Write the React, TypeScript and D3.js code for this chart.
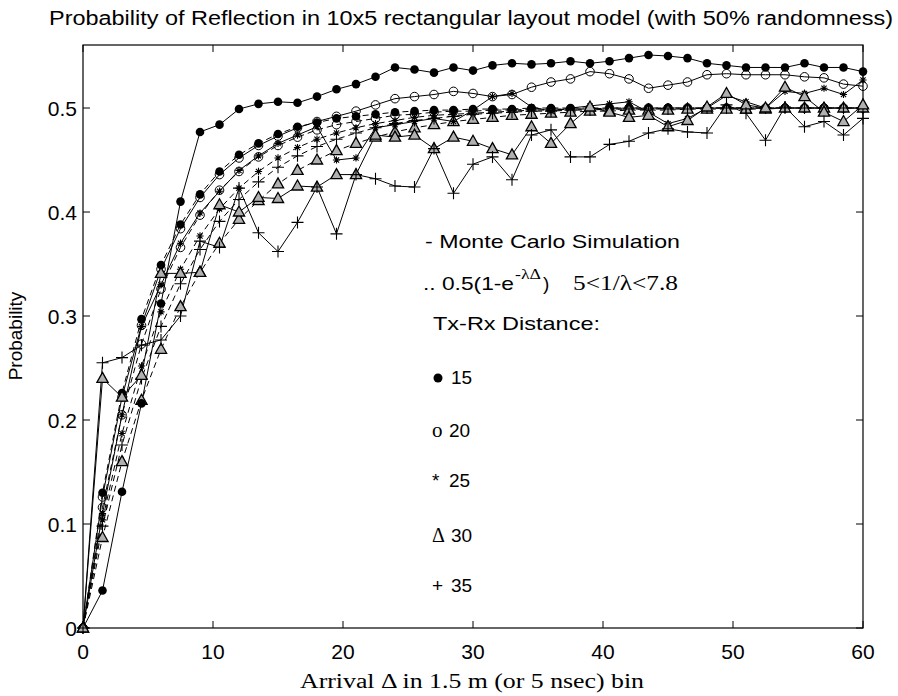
import React from 'react';
import * as d3 from 'd3';

const binX = [0, 1.5, 3, 4.5, 6, 7.5, 9, 10.5, 12, 13.5, 15, 16.5, 18, 19.5, 21, 22.5, 24, 25.5, 27, 28.5, 30, 31.5, 33, 34.5, 36, 37.5, 39, 40.5, 42, 43.5, 45, 46.5, 48, 49.5, 51, 52.5, 54, 55.5, 57, 58.5, 60];

const distances = ['15', '20', '25', '30', '35'];
const markerTypes = ['filled', 'open', 'star', 'triangle', 'plus'];

// Monte Carlo simulation (solid)
const mc15 = [0, 0.036, 0.131, 0.216, 0.312, 0.41, 0.477, 0.484, 0.499, 0.504,
  0.506, 0.505, 0.511, 0.518, 0.523, 0.530, 0.539, 0.537, 0.534, 0.539,
  0.536, 0.541, 0.543, 0.542, 0.543, 0.545, 0.543, 0.545, 0.548, 0.551,
  0.550, 0.548, 0.543, 0.541, 0.539, 0.539, 0.539, 0.543, 0.539, 0.539, 0.535];
const mc20 = [0, 0.126, 0.222, 0.291, 0.345, 0.384, 0.414, 0.436, 0.452, 0.464,
  0.473, 0.481, 0.487, 0.492, 0.497, 0.503, 0.509, 0.511, 0.513, 0.516,
  0.514, 0.511, 0.513, 0.520, 0.525, 0.528, 0.535, 0.533, 0.528, 0.519,
  0.522, 0.525, 0.532, 0.533, 0.532, 0.532, 0.532, 0.530, 0.529, 0.523, 0.521];
const mc25 = [0, 0.11, 0.205, 0.29, 0.33, 0.37, 0.399, 0.42, 0.44, 0.454,
  0.466, 0.474, 0.482, 0.45, 0.452, 0.481, 0.484, 0.487, 0.49, 0.487,
  0.498, 0.511, 0.514, 0.501, 0.497, 0.500, 0.502, 0.504, 0.506, 0.496,
  0.485, 0.490, 0.500, 0.512, 0.506, 0.500, 0.516, 0.514, 0.519, 0.513, 0.527];
const mc30 = [0, 0.24, 0.222, 0.243, 0.341, 0.341, 0.342, 0.407, 0.40, 0.414,
  0.413, 0.425, 0.424, 0.436, 0.436, 0.474, 0.472, 0.474, 0.461, 0.472,
  0.468, 0.461, 0.455, 0.482, 0.466, 0.485, 0.501, 0.496, 0.491, 0.493,
  0.482, 0.488, 0.501, 0.514, 0.503, 0.500, 0.520, 0.511, 0.496, 0.487, 0.503];
const mc35 = [0, 0.255, 0.26, 0.272, 0.277, 0.30, 0.372, 0.366, 0.423, 0.38,
  0.362, 0.39, 0.424, 0.379, 0.436, 0.432, 0.425, 0.424, 0.461, 0.418,
  0.446, 0.453, 0.431, 0.474, 0.479, 0.453, 0.453, 0.465, 0.468, 0.476,
  0.48, 0.477, 0.476, 0.503, 0.495, 0.469, 0.501, 0.482, 0.487, 0.474, 0.49];

// 0.5(1-e^-λΔ) model (dashed)
const fit15 = [0, 0.130, 0.226, 0.297, 0.349, 0.388, 0.417, 0.439, 0.455, 0.466,
  0.475, 0.482, 0.486, 0.490, 0.492, 0.494, 0.496, 0.497, 0.498, 0.498,
  0.499, 0.499, 0.499, 0.5, 0.5, 0.5, 0.5, 0.5, 0.5, 0.5,
  0.5, 0.5, 0.5, 0.5, 0.5, 0.5, 0.5, 0.5, 0.5, 0.5, 0.5];
const fit20 = [0, 0.116, 0.205, 0.273, 0.326, 0.366, 0.397, 0.421, 0.439, 0.453,
  0.464, 0.472, 0.479, 0.484, 0.487, 0.490, 0.493, 0.494, 0.496, 0.497,
  0.497, 0.498, 0.498, 0.499, 0.499, 0.499, 0.499, 0.5, 0.5, 0.5,
  0.5, 0.5, 0.5, 0.5, 0.5, 0.5, 0.5, 0.5, 0.5, 0.5, 0.5];
const fit25 = [0, 0.104, 0.187, 0.252, 0.304, 0.345, 0.377, 0.403, 0.423, 0.439,
  0.452, 0.462, 0.470, 0.476, 0.481, 0.485, 0.488, 0.491, 0.493, 0.494,
  0.495, 0.496, 0.497, 0.498, 0.498, 0.499, 0.499, 0.499, 0.499, 0.499,
  0.5, 0.5, 0.5, 0.5, 0.5, 0.5, 0.5, 0.5, 0.5, 0.5, 0.5];
const fit30 = [0, 0.087, 0.160, 0.219, 0.268, 0.309, 0.342, 0.370, 0.393, 0.411,
  0.427, 0.440, 0.450, 0.459, 0.466, 0.472, 0.477, 0.481, 0.484, 0.487,
  0.489, 0.491, 0.493, 0.494, 0.495, 0.496, 0.497, 0.497, 0.498, 0.498,
  0.498, 0.499, 0.499, 0.499, 0.499, 0.499, 0.5, 0.5, 0.5, 0.5, 0.5];
const fit35 = [0, 0.098, 0.176, 0.240, 0.290, 0.331, 0.364, 0.391, 0.412, 0.429,
  0.443, 0.454, 0.463, 0.470, 0.476, 0.481, 0.485, 0.488, 0.490, 0.492,
  0.494, 0.495, 0.496, 0.497, 0.497, 0.498, 0.498, 0.499, 0.499, 0.499,
  0.499, 0.499, 0.5, 0.5, 0.5, 0.5, 0.5, 0.5, 0.5, 0.5, 0.5];

const mcSeries = [mc15, mc20, mc25, mc30, mc35];
const fitSeries = [fit15, fit20, fit25, fit30, fit35];

const xTicks = [0, 10, 20, 30, 40, 50, 60];
const yTicks = [0, 0.1, 0.2, 0.3, 0.4, 0.5];
const yTickLabels = ['0', '0.1', '0.2', '0.3', '0.4', '0.5'];

const titleText = 'Probability of Reflection in 10x5 rectangular layout model (with 50% randomness)';
const xLabel = 'Arrival \u0394 in 1.5 m (or 5 nsec) bin';
const yLabel = 'Probability';
const fitLabelA = '.. 0.5(1-e';
const fitLabelSup = '-\u03bb\u0394';
const fitLabelRange = '5<1/\u03bb<7.8';

const SANS = '"Liberation Sans", Arial, Helvetica, sans-serif';
const SERIF = '"Liberation Serif", "Times New Roman", serif';

function Marker({ type, cx, cy }: { type: string; cx: number; cy: number }) {
  if (type === 'filled') return <circle cx={cx} cy={cy} r={4.3} fill="#000" />;
  if (type === 'open') return <circle cx={cx} cy={cy} r={4.3} fill="none" stroke="#000" strokeWidth={1} />;
  if (type === 'plus')
    return (
      <path d={`M${cx - 6},${cy}H${cx + 6}M${cx},${cy - 6}V${cy + 6}`} stroke="#000" strokeWidth={1.1} fill="none" />
    );
  if (type === 'star') {
    const s = 3.6, d = 2.6;
    return (
      <path
        d={`M${cx - s},${cy}H${cx + s}M${cx},${cy - s}V${cy + s}M${cx - d},${cy - d}L${cx + d},${cy + d}M${cx - d},${cy + d}L${cx + d},${cy - d}`}
        stroke="#000" strokeWidth={1.1} fill="none" />
    );
  }
  return (
    <path d={`M${cx},${cy - 6}L${cx + 5.6},${cy + 4}L${cx - 5.6},${cy + 4}Z`} fill="#b0b0b0" stroke="#000" strokeWidth={1.3} />
  );
}

export default function App() {
  const W = 898, H = 696;
  const left = 83, right = 863, top = 45, bottom = 628;
  const x = d3.scaleLinear().domain([0, 60]).range([left, right]);
  const y = d3.scaleLinear().domain([0, 0.5606]).range([bottom, top]);
  const line = d3.line<number>().x((_, i) => x(binX[i])).y((v) => y(v));
  const tl = 7;

  return (
    <svg width={W} height={H} style={{ position: 'absolute', left: 0, top: 0, background: '#fff' }}
      xmlns="http://www.w3.org/2000/svg">
      <rect x={0} y={0} width={W} height={H} fill="#fff" />
      <text x={49} y={25} fontFamily={SANS} fontSize={20} textLength={844} lengthAdjust="spacingAndGlyphs">{titleText}</text>

      <rect x={left} y={top} width={right - left} height={bottom - top} fill="none" stroke="#000" strokeWidth={1.2} />
      {xTicks.map((t) => (
        <g key={'xt' + t}>
          <line x1={x(t)} x2={x(t)} y1={bottom} y2={bottom - tl} stroke="#000" />
          <line x1={x(t)} x2={x(t)} y1={top} y2={top + tl} stroke="#000" />
          <text x={x(t)} y={659} textAnchor="middle" fontFamily={SANS} fontSize={21}>{t}</text>
        </g>
      ))}
      {yTicks.map((t, i) => (
        <g key={'yt' + t}>
          <line x1={left} x2={left + tl} y1={y(t)} y2={y(t)} stroke="#000" />
          <line x1={right} x2={right - tl} y1={y(t)} y2={y(t)} stroke="#000" />
          <text x={77} y={y(t) + 7.5} textAnchor="end" fontFamily={SANS} fontSize={21}>{yTickLabels[i]}</text>
        </g>
      ))}

      {fitSeries.map((s, k) => (
        <path key={'f' + k} d={line(s) || ''} fill="none" stroke="#000" strokeWidth={1} strokeDasharray="6,4" />
      ))}
      {mcSeries.map((s, k) => (
        <path key={'m' + k} d={line(s) || ''} fill="none" stroke="#000" strokeWidth={1} />
      ))}
      {fitSeries.map((s, k) => (
        <g key={'fm' + k}>
          {s.map((v, i) => <Marker key={i} type={markerTypes[k]} cx={x(binX[i])} cy={y(v)} />)}
        </g>
      ))}
      {mcSeries.map((s, k) => (
        <g key={'mm' + k}>
          {s.map((v, i) => <Marker key={i} type={markerTypes[k]} cx={x(binX[i])} cy={y(v)} />)}
        </g>
      ))}

      <text x={425} y={248} fontFamily={SANS} fontSize={19} textLength={255} lengthAdjust="spacingAndGlyphs">- Monte Carlo Simulation</text>
      <text x={423} y={290} fontFamily={SANS} fontSize={19} textLength={91} lengthAdjust="spacingAndGlyphs">{fitLabelA}</text>
      <text x={515} y={279} fontFamily={SERIF} fontSize={14} textLength={26} lengthAdjust="spacingAndGlyphs">{fitLabelSup}</text>
      <text x={543} y={290} fontFamily={SANS} fontSize={19}>)</text>
      <text x={573} y={290} fontFamily={SERIF} fontSize={21} textLength={105} lengthAdjust="spacingAndGlyphs">{fitLabelRange}</text>
      <text x={433} y={330} fontFamily={SANS} fontSize={19} textLength={167} lengthAdjust="spacingAndGlyphs">Tx-Rx Distance:</text>

      <circle cx={438} cy={378} r={4.5} fill="#000" />
      <text x={451} y={384} fontFamily={SANS} fontSize={19}>{distances[0]}</text>
      <text x={432} y={437} fontFamily={SERIF} fontSize={21}>o</text>
      <text x={449} y={437} fontFamily={SANS} fontSize={19}>{distances[1]}</text>
      <text x={432} y={487} fontFamily={SANS} fontSize={19}>*</text>
      <text x={449} y={487} fontFamily={SANS} fontSize={19}>{distances[2]}</text>
      <text x={432} y={542} fontFamily={SERIF} fontSize={20}>{'\u0394'}</text>
      <text x={451} y={542} fontFamily={SANS} fontSize={19}>{distances[3]}</text>
      <text x={432} y={592} fontFamily={SANS} fontSize={19}>+</text>
      <text x={451} y={592} fontFamily={SANS} fontSize={19}>{distances[4]}</text>

      <text x={300} y={688} fontFamily={SERIF} fontSize={20} textLength={344} lengthAdjust="spacingAndGlyphs">{xLabel}</text>
      <text transform="translate(22,336) rotate(-90)" textAnchor="middle" fontFamily={SANS} fontSize={19}>{yLabel}</text>
    </svg>
  );
}
